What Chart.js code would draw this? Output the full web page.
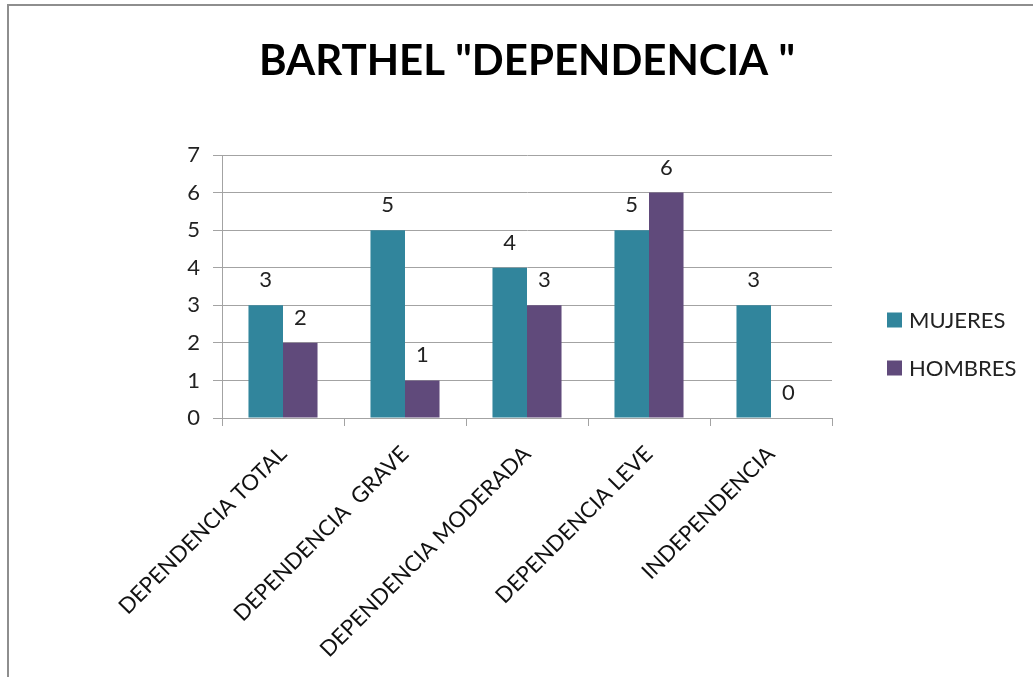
<!DOCTYPE html>
<html>
<head>
<meta charset="utf-8">
<script src="https://cdn.jsdelivr.net/npm/chart.js@4"></script>
<style>
    html, body { margin: 0; padding: 0; background: #fff; overflow: hidden; }
    #wrap { position: relative; width: 1033px; height: 677px; }
    #frame {
        position: absolute; left: 7px; top: 4px; right: -10px; bottom: -10px;
        border-left: 2px solid #8e8e8e; border-top: 2px solid #8e8e8e;
        pointer-events: none;
    }
</style>
</head>
<body>
<div id="wrap">
    <canvas id="barthelChart"></canvas>
    <div id="frame"></div>
</div>
<script>
// Chart data
const categories = ['DEPENDENCIA TOTAL', 'DEPENDENCIA  GRAVE', 'DEPENDENCIA MODERADA', 'DEPENDENCIA LEVE', 'INDEPENDENCIA'];
const mujeres = [3, 5, 4, 5, 3];
const hombres = [2, 1, 3, 6, 0];
const seriesNames = ['MUJERES', 'HOMBRES'];
const yTicks = [0, 1, 2, 3, 4, 5, 6, 7];
const chartTitle = 'BARTHEL "DEPENDENCIA "';

const FONT = 'Lato, "Open Sans", sans-serif';
const TEAL = '#31859c';
const PURPLE = '#604a7b';
const GRID = '#a3a3a3';

// title centred over the plot area
const plotTitle = {
    id: 'plotTitle',
    afterDraw(chart) {
        const ctx = chart.ctx;
        const area = chart.chartArea;
        ctx.save();
        ctx.font = 'bold 42px ' + FONT;
        ctx.fillStyle = '#000';
        ctx.textAlign = 'center';
        ctx.textBaseline = 'alphabetic';
        ctx.fillText(chartTitle, (area.left + area.right) / 2, 75);
        ctx.restore();
    }
};

// value labels above each bar
const valueLabels = {
    id: 'valueLabels',
    afterDatasetsDraw(chart) {
        const ctx = chart.ctx;
        ctx.save();
        ctx.font = '22px ' + FONT;
        ctx.fillStyle = '#222';
        ctx.textAlign = 'center';
        ctx.textBaseline = 'alphabetic';
        chart.data.datasets.forEach((ds, i) => {
            chart.getDatasetMeta(i).data.forEach((bar, j) => {
                ctx.fillText(String(ds.data[j]), bar.x, bar.y - 18);
            });
        });
        ctx.restore();
    }
};

// legend on the right, drawn next to the plot area
const sideLegend = {
    id: 'sideLegend',
    afterDraw(chart) {
        const ctx = chart.ctx;
        const area = chart.chartArea;
        ctx.save();
        ctx.font = '22px ' + FONT;
        ctx.textBaseline = 'middle';
        ctx.textAlign = 'left';
        chart.data.datasets.forEach((ds, i) => {
            const x = area.right + 55;
            const cy = area.top + 165 + i * 48;
            ctx.fillStyle = ds.backgroundColor;
            ctx.fillRect(x, cy - 7.5, 15, 15);
            ctx.fillStyle = '#222';
            ctx.fillText(ds.label, x + 22, cy + 1);
        });
        ctx.restore();
    }
};

const ctx = document.getElementById('barthelChart').getContext('2d');
const barthelChart = new Chart(ctx, {
    type: 'bar',
    data: {
        labels: categories,
        datasets: [
            {
                label: seriesNames[0],
                data: mujeres,
                backgroundColor: TEAL,
                categoryPercentage: 0.566,
                barPercentage: 1
            },
            {
                label: seriesNames[1],
                data: hombres,
                backgroundColor: PURPLE,
                categoryPercentage: 0.566,
                barPercentage: 1
            }
        ]
    },
    options: {
        responsive: true,
        maintainAspectRatio: false,
        animation: false,
        layout: {
            padding: { left: 0, right: 201, top: 155, bottom: 0 }
        },
        plugins: {
            legend: { display: false },
            tooltip: { enabled: false },
            title: { display: false }
        },
        scales: {
            x: {
                grid: {
                    offset: true,
                    drawOnChartArea: false,
                    color: GRID,
                    tickLength: 8
                },
                border: { color: GRID },
                ticks: {
                    color: '#111',
                    font: { family: FONT, size: 22 },
                    minRotation: 45,
                    maxRotation: 45,
                    autoSkip: false,
                    padding: 15
                },
                afterFit(scale) { scale.height = 259; }
            },
            y: {
                min: 0,
                max: 7,
                afterBuildTicks(scale) {
                    scale.ticks = yTicks.map(v => ({ value: v }));
                },
                grid: { color: GRID, tickLength: 9 },
                border: { color: GRID },
                ticks: {
                    color: '#222',
                    font: { family: FONT, size: 22 },
                    padding: 13
                },
                afterFit(scale) { scale.width = 222; }
            }
        }
    },
    plugins: [plotTitle, valueLabels, sideLegend]
});
</script>
</body>
</html>
